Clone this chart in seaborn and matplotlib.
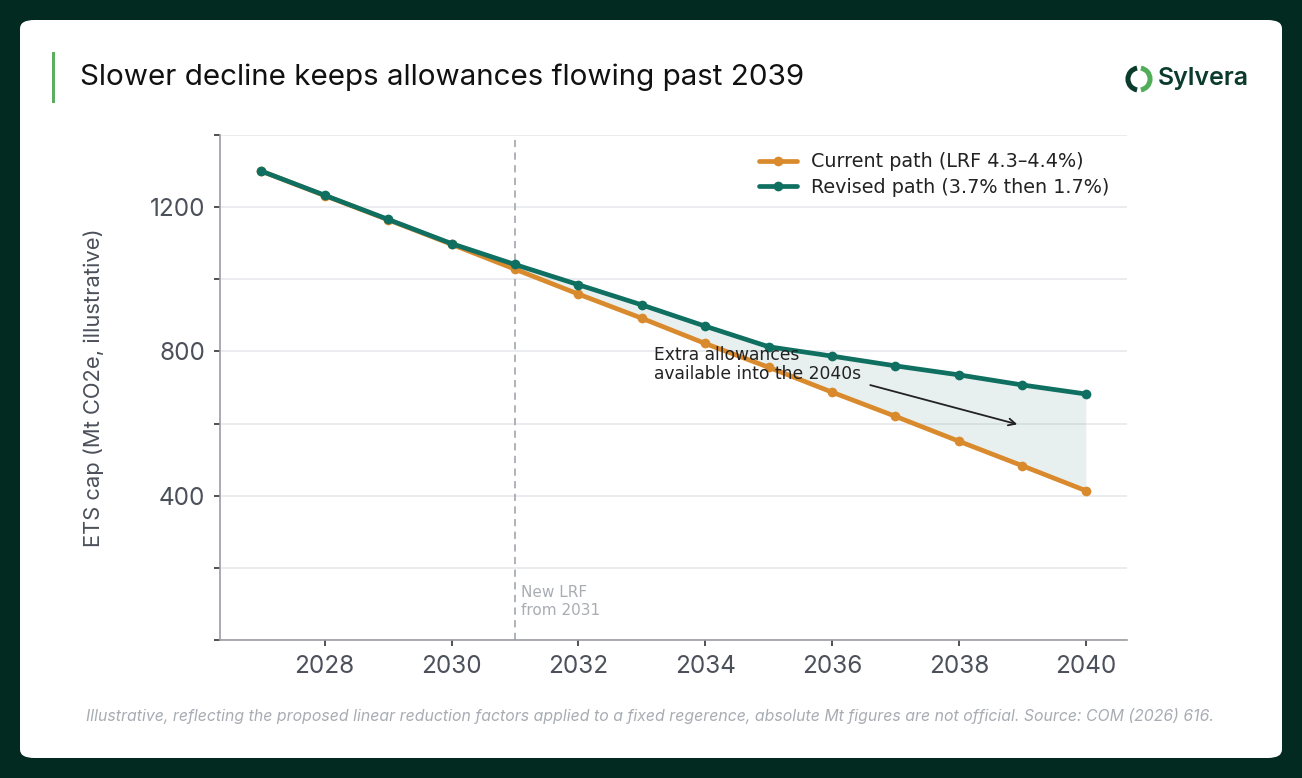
import matplotlib
matplotlib.use("Agg")
from matplotlib import pyplot as plt
from matplotlib.patches import FancyBboxPatch, Arc, Rectangle
import pandas as pd
import seaborn as sns

# data
years = [2027, 2028, 2029, 2030, 2031, 2032, 2033, 2034, 2035, 2036, 2037, 2038, 2039, 2040]
current_path = [1300, 1232, 1165, 1097, 1028, 959, 892, 822, 756, 687, 620, 551, 483, 414]
revised_path = [1300, 1233, 1166, 1099, 1041, 985, 929, 870, 813, 787, 760, 735, 707, 682]
series_labels = ["Current path (LRF 4.3–4.4%)", "Revised path (3.7% then 1.7%)"]
y_ticks = [0, 200, 400, 600, 800, 1000, 1200, 1400]
y_labelled = [400, 800, 1200]
x_ticks = [2028, 2030, 2032, 2034, 2036, 2038, 2040]

ORANGE = "#d98a2c"
TEAL = "#0f6f60"
BG = "#022a20"
TICK_GREY = "#4b505a"

df = pd.DataFrame({
    "year": years * 2,
    "cap": current_path + revised_path,
    "path": [series_labels[0]] * len(years) + [series_labels[1]] * len(years),
})

sns.set_style("white")
plt.rcParams["font.family"] = ["DejaVu Sans"]

fig = plt.figure(figsize=(13.02, 7.78), dpi=100)
fig.patch.set_facecolor(BG)

# white card (kept behind the axes)
card = FancyBboxPatch((20 / 1302, 20 / 778), 1262 / 1302, 738 / 778,
                      boxstyle="round,pad=0,rounding_size=0.011",
                      transform=fig.transFigure, facecolor="white",
                      edgecolor="none", zorder=-10)
fig.patches.append(card)

# title accent bar + title
fig.patches.append(Rectangle((52 / 1302, 1 - 103 / 778), 3 / 1302, 51 / 778,
                             transform=fig.transFigure, facecolor="#5cad5f",
                             edgecolor="none", zorder=-5))
fig.text(80 / 1302, 1 - 77 / 778, "Slower decline keeps allowances flowing past 2039",
         fontsize=21.3, family="Inter", color="#111111", va="center", ha="left")

# logo
logo_ax = fig.add_axes([1122 / 1302, 1 - 96 / 778, 34 / 1302, 34 / 778])
logo_ax.set_xlim(-1, 1)
logo_ax.set_ylim(-1, 1)
logo_ax.set_aspect("equal")
logo_ax.axis("off")
logo_ax.add_patch(Arc((0, 0), 1.3, 1.3, theta1=100, theta2=260, lw=3.6, color="#0b3b2c"))
logo_ax.add_patch(Arc((0, 0), 1.3, 1.3, theta1=-80, theta2=80, lw=3.6, color="#4fae57"))
fig.text(1158 / 1302, 1 - 79 / 778, "Sylvera", fontsize=18, family="Inter",
         fontweight="semibold", color="#0b3b2c", va="center", ha="left")

ax = fig.add_axes([220 / 1302, 1 - 640 / 778, 907 / 1302, 505 / 778])
ax.set_facecolor("white")

sns.lineplot(data=df, x="year", y="cap", hue="path", palette=[ORANGE, TEAL],
             marker="o", markersize=7, markeredgewidth=0, linewidth=3.4, ax=ax,
             zorder=3)

ax.fill_between(years, current_path, revised_path, color="#2f7f76", alpha=0.11,
                linewidth=0, zorder=1)

ax.axvline(2031, color="#a9adb2", linestyle=(0, (4, 3)), linewidth=1.3, zorder=2)
ax.text(2031.1, 107, "New LRF\nfrom 2031", fontsize=11, color="#a9adb2",
        ha="left", va="center", linespacing=1.3)

ax.annotate("Extra allowances\navailable into the 2040s",
            xy=(2038.92, 598), xytext=(2033.2, 764),
            fontsize=12.3, color="#222222", ha="left", va="center",
            linespacing=1.05,
            arrowprops=dict(arrowstyle="->", color="#222222", lw=1.3,
                            relpos=(1, 0), shrinkA=4, shrinkB=0),
            zorder=4)

ax.set_xlim(2026.35, 2040.65)
ax.set_ylim(0, 1400)
ax.set_xticks(x_ticks)
ax.set_xticklabels([str(x) for x in x_ticks])
ax.set_yticks(y_ticks)
ax.set_yticklabels([str(v) if v in y_labelled else "" for v in y_ticks])
ax.yaxis.grid(True, color="#e7e9ec", linewidth=1.2)
ax.xaxis.grid(False)
ax.set_axisbelow(True)

for lab in ax.get_xticklabels() + ax.get_yticklabels():
    lab.set_family("Inter")
    lab.set_fontsize(17.5)
    lab.set_color(TICK_GREY)
ax.tick_params(axis="both", bottom=True, left=True, length=4.5, width=1.2,
               color="#333333", pad=6, direction="out")

for side in ["top", "right"]:
    ax.spines[side].set_visible(False)
for side in ["left", "bottom"]:
    ax.spines[side].set_color("#9a9ea4")
    ax.spines[side].set_linewidth(1.2)

ax.set_xlabel("")
ax.set_ylabel("ETS cap (Mt CO2e, illustrative)", family="Inter", fontsize=15.8,
              color=TICK_GREY, labelpad=33)

leg = ax.legend(loc="upper right", bbox_to_anchor=(1.0, 1.0), frameon=False,
                fontsize=13.8, handlelength=2.0, handletextpad=0.75, labelspacing=0.35)
for t in leg.get_texts():
    t.set_color("#222222")

fig.text(650 / 1302, 1 - 716 / 778,
         "Illustrative, reflecting the proposed linear reduction factors applied to a fixed "
         "regerence, absolute Mt figures are not official. Source: COM (2026) 616.",
         fontsize=11.4, family="Inter", style="italic", color="#a8acb3",
         ha="center", va="center")

fig.savefig("out.png", dpi=100, facecolor=BG)
